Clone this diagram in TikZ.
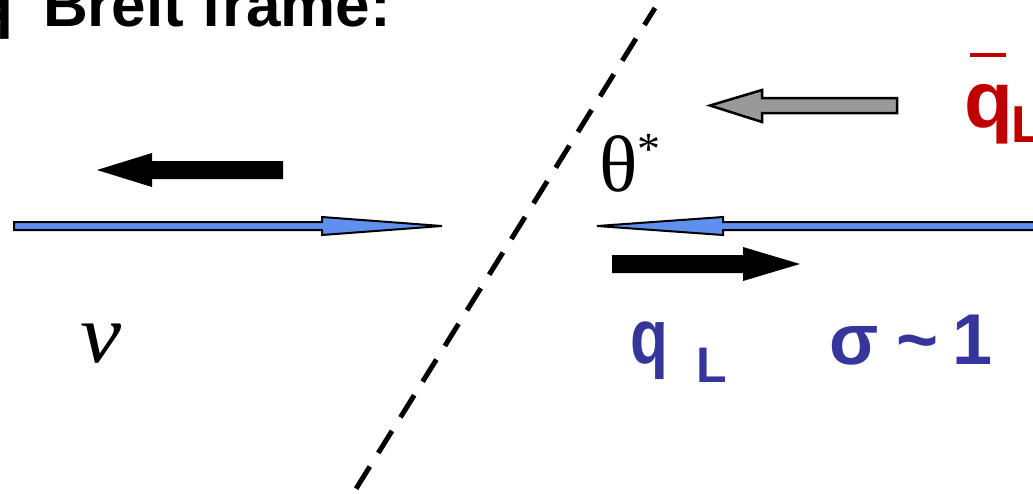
\documentclass[tikz,border=0pt]{standalone}
\usepackage{fontspec}
\setmainfont{Liberation Serif}
\newfontfamily\sansbold{Liberation Sans}[UprightFont=* Bold]
\definecolor{bluefill}{HTML}{5F8FEF}
\definecolor{darkblue}{HTML}{35359B}
\definecolor{darkred}{HTML}{C00000}
\definecolor{grayfill}{HTML}{999999}
\tikzset{
  txt/.style={inner sep=0pt, outer sep=0pt},
  bluearrow/.style={draw=black, line width=2pt, fill=bluefill, line join=miter},
  blackarrow/.style={fill=black, draw=none},
  grayarrow/.style={draw=black, line width=2.5pt, fill=grayfill, line join=miter},
  cutline/.style={draw=black, line width=5pt, dash pattern=on 26pt off 16pt, dash phase=6pt},
}
\begin{document}
\begin{tikzpicture}[x=1pt,y=-1pt]
\useasboundingbox (0,0) rectangle (1033,493);
\clip (0,0) rectangle (1033,493);
% title
\node[txt, anchor=base west] (titleq) at (-24,26) {\fontsize{62}{62}\sansbold q};
\node[txt, anchor=base east] (title) at (391,26) {\fontsize{62}{62}\sansbold Breit frame:};
% dashed line
\coordinate (dtop) at (655,8);
\coordinate (dbot) at (354,492);
\draw[cutline] (dtop) -- (dbot);
% gray arrow
\draw[grayarrow] (710,105.5) -- (762,90) -- (762,98) -- (897,98) -- (897,113) -- (762,113) -- (762,122) -- cycle;
% red qbar_L
\node[txt, anchor=base west, text=darkred] (qbar) at (964,127) {\fontsize{80}{80}\sansbold q};
\draw[darkred, line width=3.5pt] (970,55) -- (1006,55);
\node[txt, anchor=base west, text=darkred] (Lred) at (1011,142) {\fontsize{52}{52}\sansbold L};
% theta*
\node[txt, anchor=base west] (theta) at (599,191) {\fontsize{80}{80}\selectfont θ\raisebox{0.33em}{\fontsize{46}{46}\selectfont *}};
% black left arrow
\fill[blackarrow] (97,170) -- (152,153) -- (152,161) -- (283,161) -- (283,179) -- (152,179) -- (152,187) -- cycle;
% blue arrow to the right
\draw[bluearrow] (14,222) -- (322,222) -- (322,217) -- (442,226) -- (322,235) -- (322,230) -- (14,230) -- cycle;
% blue arrow to the left
\draw[bluearrow] (597,226) -- (723,217) -- (723,222) -- (1045,222) -- (1045,230) -- (723,230) -- (723,235) -- cycle;
% black right arrow
\fill[blackarrow] (800,264) -- (743,247) -- (743,255) -- (612,255) -- (612,273) -- (743,273) -- (743,281) -- cycle;
% nu
\node[txt, anchor=base west] (nu) at (80,362) {\fontsize{84}{84}\selectfont\itshape \scalebox{1.1}[1]{ν}};
% q_L blue
\node[txt, anchor=base west, text=darkblue] (qblue) at (630,363) {\fontsize{62}{62}\sansbold \scalebox{1}[1.25]{q}};
\node[txt, anchor=base west, text=darkblue] (Lblue) at (696.5,382) {\fontsize{50}{50}\sansbold L};
% sigma ~ 1
\node[txt, anchor=base west, text=darkblue] (sigma) at (829,364) {\fontsize{72}{72}\sansbold σ\hspace{0.25em}\symbol{126}\hspace{0.2em}1};
\end{tikzpicture}
\end{document}
